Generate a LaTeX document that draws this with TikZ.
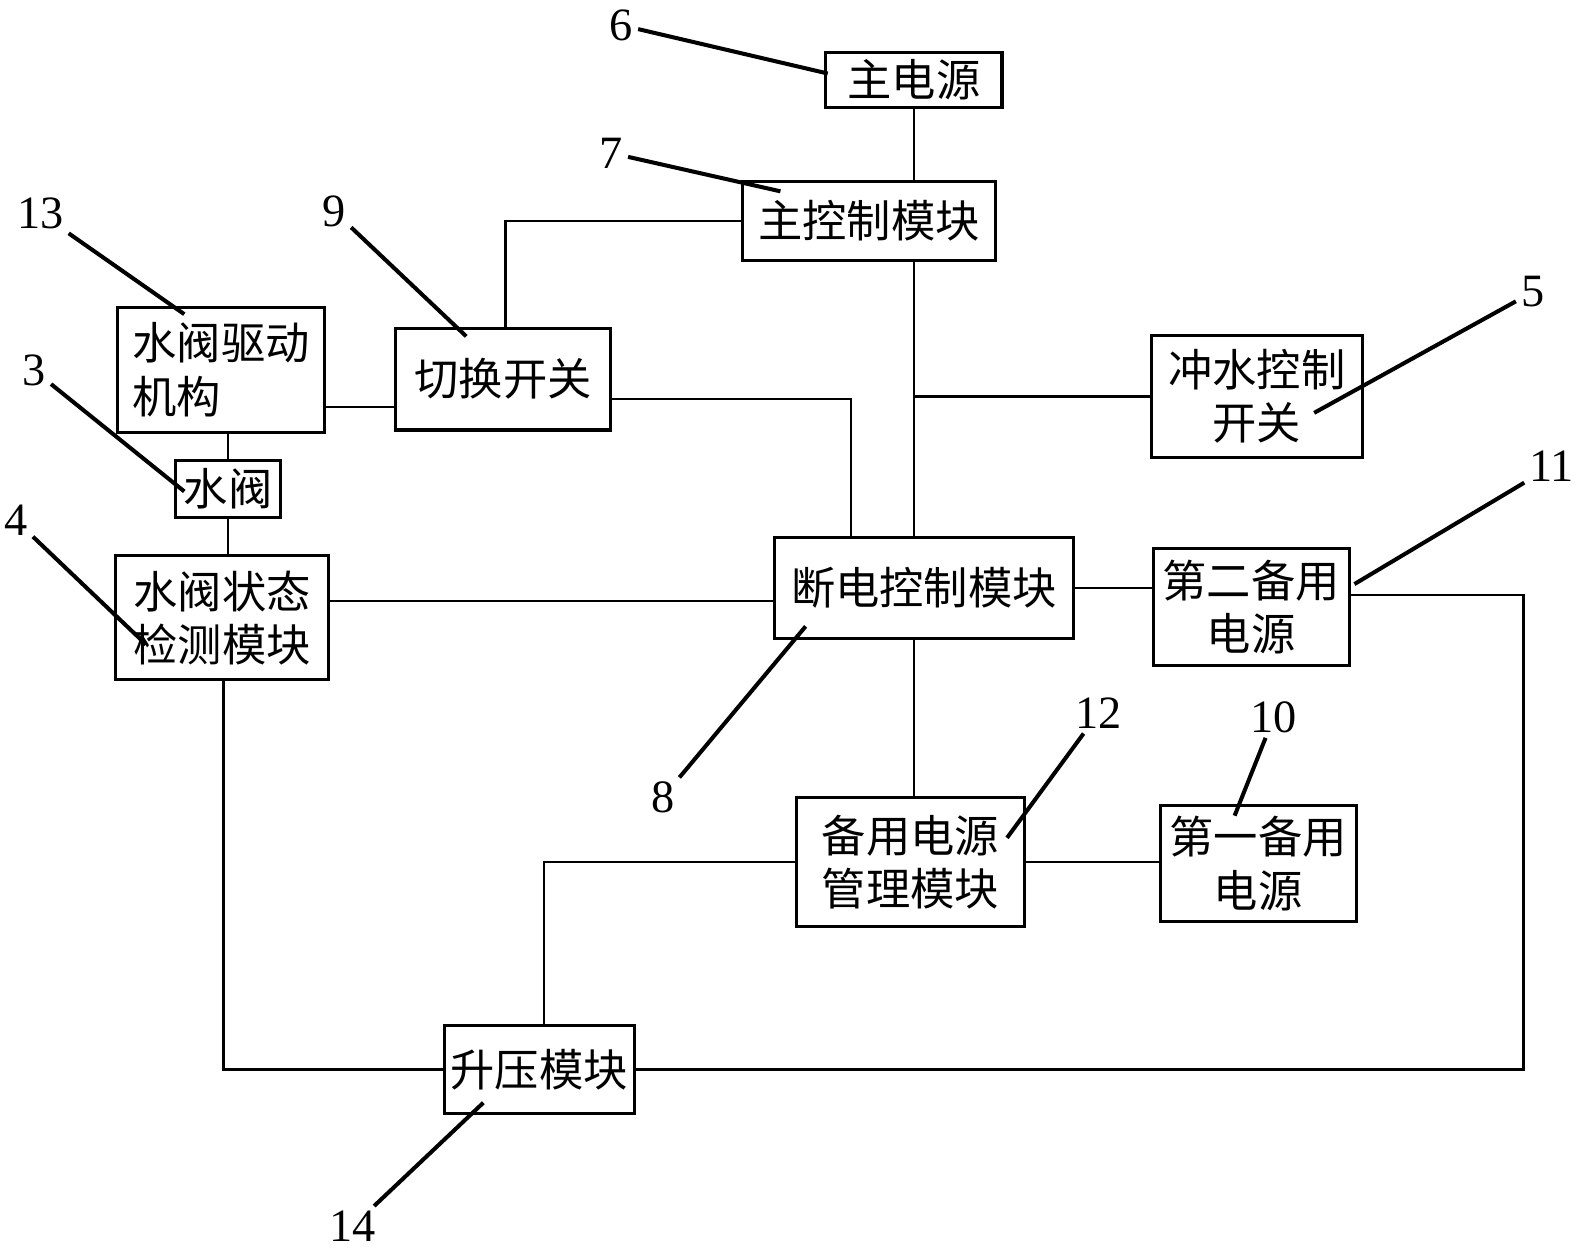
\documentclass[tikz,border=0pt]{standalone}
\usepackage{fontspec}
\setmainfont{Liberation Serif}
\newfontfamily\cjk{Noto Sans CJK SC}
\begin{document}
\begin{tikzpicture}[x=1pt,y=-1pt,
  box/.style={draw,line width=3pt,inner sep=0pt,font=\cjk\fontsize{44}{53}\selectfont,align=center},
  wire/.style={line width=2.5pt},
  leader/.style={line width=4pt},
  num/.style={inner sep=5pt,font=\fontsize{46}{46}\selectfont}]
\useasboundingbox[fill=white] (0,0) rectangle (1568,1246);
% boxes
\node[box,minimum width=175pt,minimum height=55pt] (psu) at (907.5,79.5) {主电源};
\node[box,minimum width=252pt,minimum height=79pt] (mcm) at (863,219.5) {主控制模块};
\node[box,minimum width=213pt,minimum height=101pt] (sw) at (499.5,376.5) {切换开关};
\node[box,minimum width=205pt,minimum height=124pt,align=left] (vdrv) at (219.5,367) {水阀驱动\\机构};
\node[box,minimum width=105pt,minimum height=57pt] (valve) at (226.5,485.5) {水阀};
\node[box,minimum width=211pt,minimum height=123pt] (vdet) at (220.5,613.5) {水阀状态\\检测模块};
\node[box,minimum width=297pt,minimum height=100pt] (pcm) at (917.5,584) {断电控制模块};
\node[box,minimum width=210pt,minimum height=121pt] (flush) at (1248,393.5) {冲水控制\\开关};
\node[box,minimum width=195pt,minimum height=116pt] (bk2) at (1242.5,603) {第二备用\\电源};
\node[box,minimum width=226pt,minimum height=128pt] (bkm) at (904,856) {备用电源\\管理模块};
\node[box,minimum width=195pt,minimum height=115pt] (bk1) at (1249.5,857.5) {第一备用\\电源};
\node[box,minimum width=189pt,minimum height=88pt] (boost) at (535.5,1062) {升压模块};
% connectors
\draw[line width=2pt] (psu.south) -- (psu.south |- mcm.north);
\draw[wire] (mcm.south -| psu.south) -- (pcm.north -| psu.south);
\coordinate (j1) at (psu.south |- flush.west);
\draw[wire] (j1) -- (flush.west);
\draw[wire] (mcm.west) -| ([xshift=2.5pt]sw.north);
\draw[wire] ([yshift=-19.5pt]sw.east) -| ([xshift=-72.5pt]pcm.north);
\draw[wire] ([yshift=-37pt]vdrv.east) -- ([yshift=-37pt]vdrv.east -| sw.west);
\draw[wire] (valve.north) -- (valve.north |- vdrv.south);
\draw[wire] (valve.south) -- (valve.south |- vdet.north);
\draw[wire] ([yshift=16.5pt]vdet.east) -- ([yshift=16.5pt]vdet.east -| pcm.west);
\draw[wire] (pcm.east) -- (pcm.east -| bk2.west);
\coordinate (rr) at (1513,0);
\draw[wire] ([yshift=12pt]bk2.east) -| (rr |- boost.east) -- (boost.east);
\draw[wire] (pcm.south -| psu.south) -- (bkm.north -| psu.south);
\draw[wire] (bkm.east) -- (bkm.east -| bk1.west);
\draw[wire] (bkm.west) -| ([xshift=4.5pt]boost.north);
\draw[wire] ([xshift=1.5pt]vdet.south) |- (boost.west);
% labels and leaders
\node[num] (l6) at (617,25) {6};
\node[num] (l7) at (607,152) {7};
\node[num] (l13) at (40,212) {13};
\node[num] (l9) at (332,210) {9};
\node[num] (l3) at (34,368) {3};
\node[num] (l4) at (16,517) {4};
\node[num] (l5) at (1522,290) {5};
\node[num] (l11) at (1541,463) {11};
\node[num] (l8) at (658,792) {8};
\node[num] (l12) at (1091,708) {12};
\node[num] (l10) at (1265,712) {10};
\node[num] (l14) at (350,1218) {14};
\coordinate (t6) at (822,73);
\coordinate (t7) at (775,190);
\coordinate (t13) at (183,312);
\coordinate (t9) at (463,334);
\coordinate (t3) at (183,488);
\coordinate (t4) at (145,640);
\coordinate (t5) at (1305,410);
\coordinate (t11) at (1345,580);
\coordinate (t8) at (800,622);
\coordinate (t12) at (1000,832);
\coordinate (t10) at (1226,810);
\coordinate (t14) at (480,1095);
\foreach \n in {6,7,13,9,3,4,5,11,8,12,10,14}{
  \draw[leader] (l\n) -- (t\n);
}
\end{tikzpicture}
\end{document}
